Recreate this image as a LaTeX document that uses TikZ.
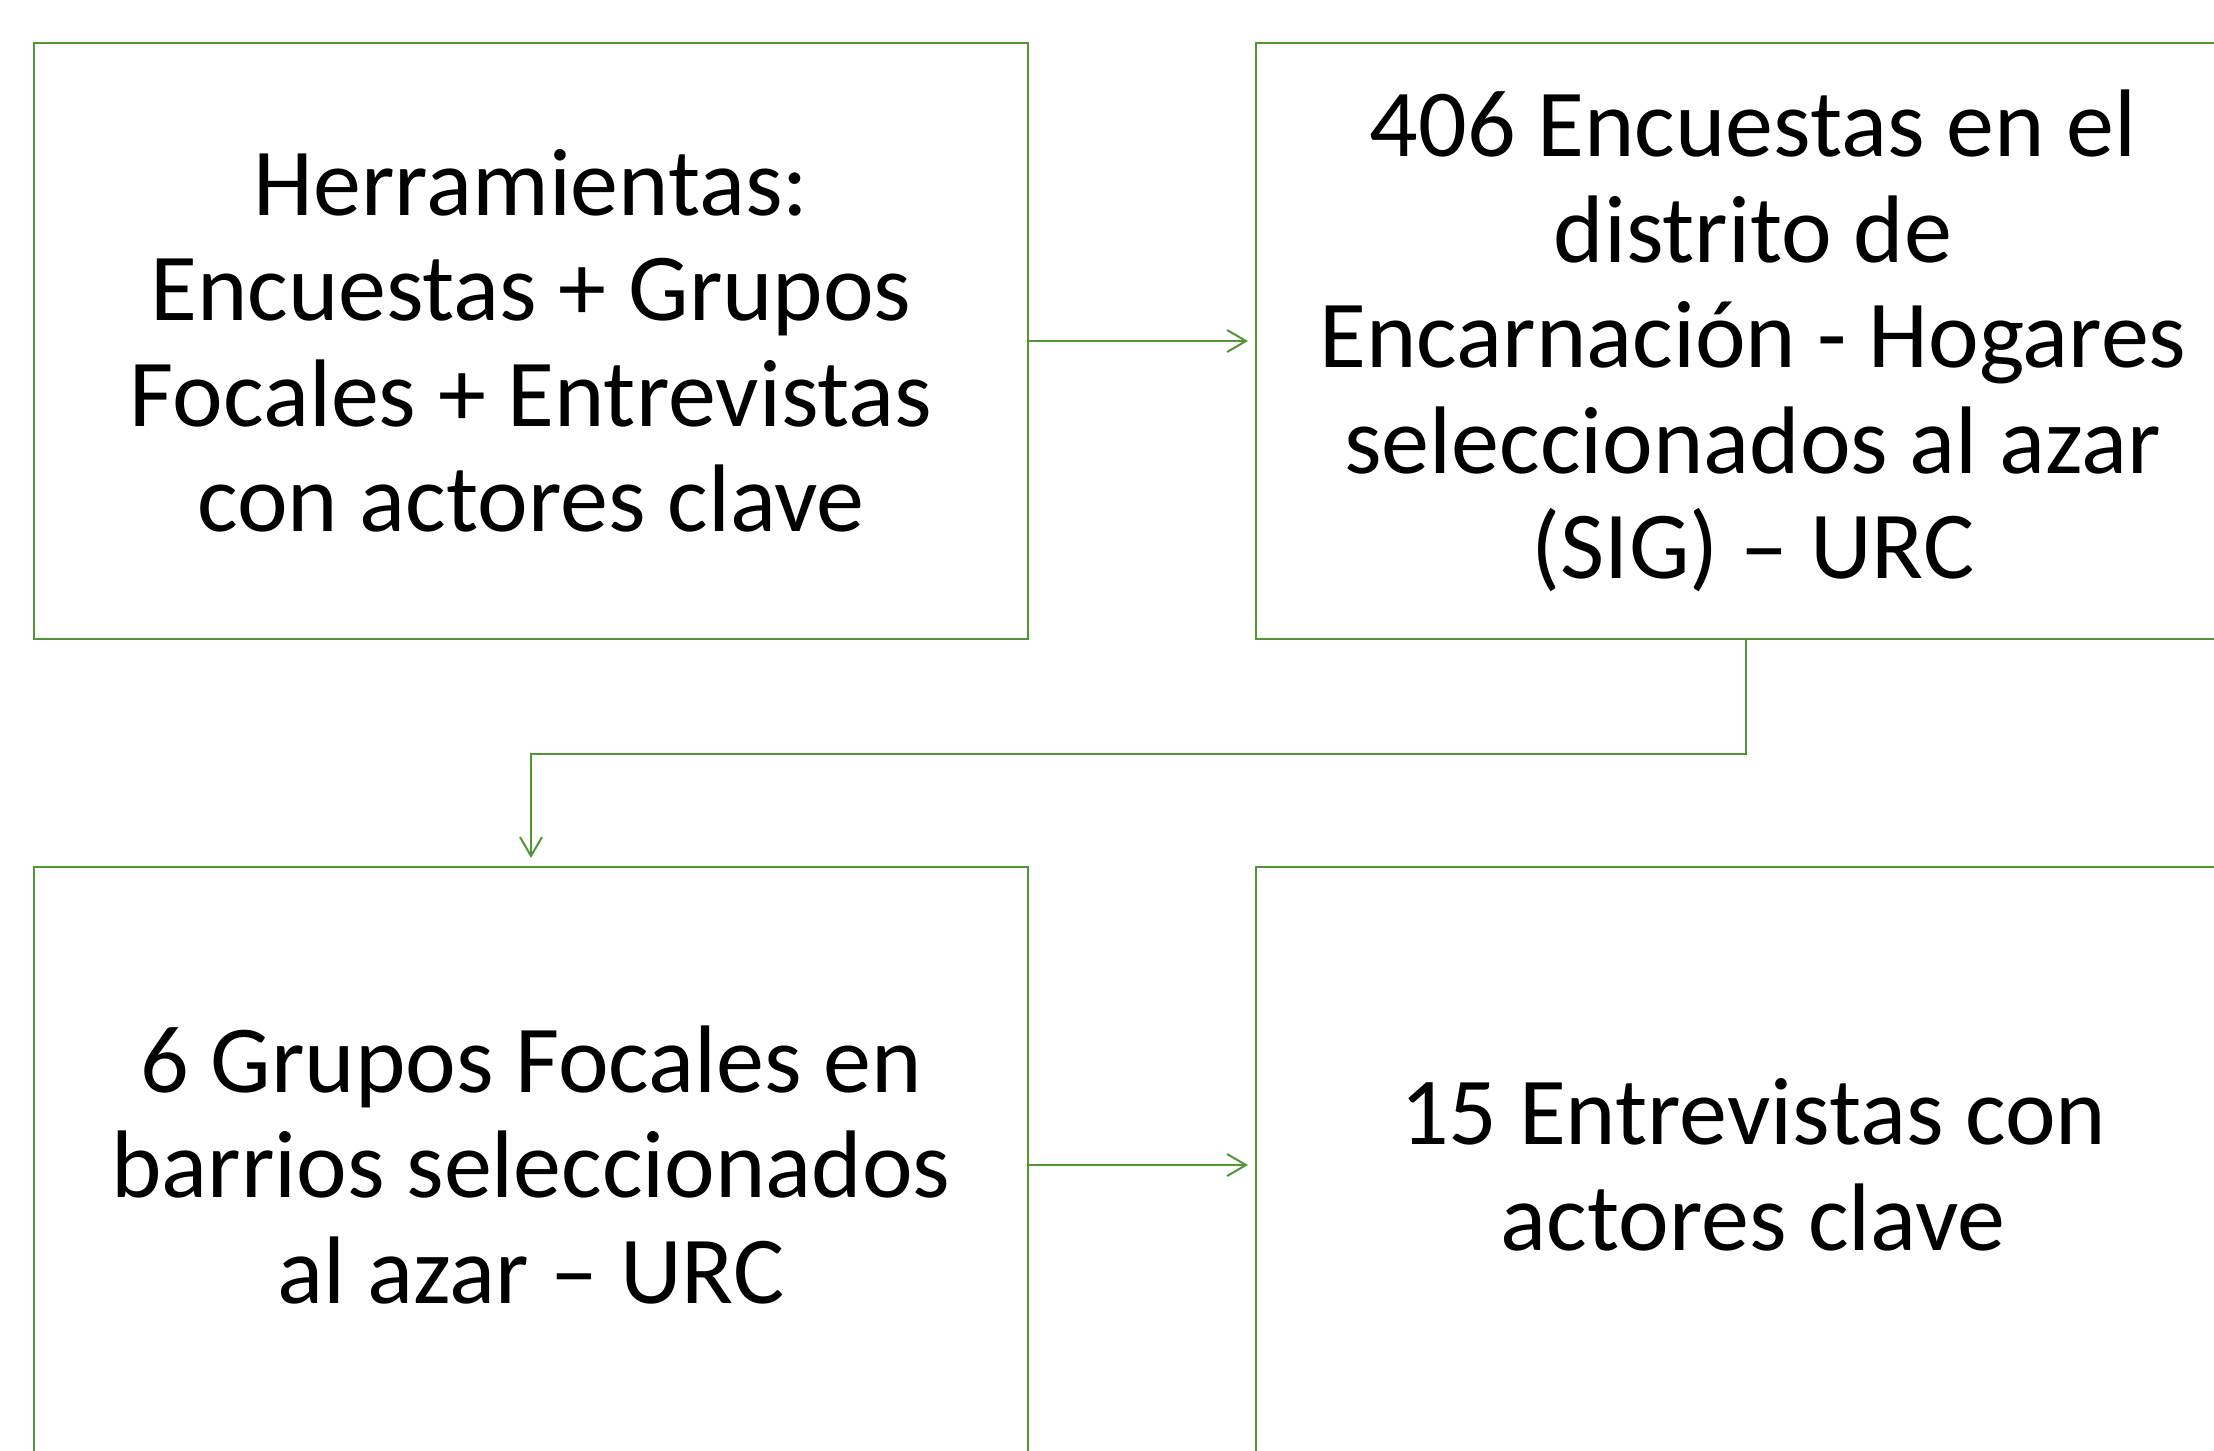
\documentclass[tikz,border=0pt]{standalone}
\usepackage{fontspec}
\setmainfont{Carlito}
\usetikzlibrary{arrows.meta}
\definecolor{boxgreen}{RGB}{80,150,55}
\begin{document}
\begin{tikzpicture}[x=1pt,y=1pt,
  box/.style={draw=boxgreen, line width=2pt, minimum width=994pt, minimum height=596pt,
    inner sep=0pt, align=center, font=\fontsize{96}{105.5}\selectfont, text=black},
  arr/.style={draw=boxgreen, line width=2pt, -{Straight Barb[length=19pt,width=22pt,line width=2pt]}, shorten >=7pt}]
\useasboundingbox (0,0) rectangle (2214,-1451);
\node[box] (b1) at (531,-341) {Herramientas:\\Encuestas + Grupos\\Focales + Entrevistas\\con actores clave};
\node[box] (b2) at (1753,-341) {406 Encuestas en el\\distrito de\\Encarnación - Hogares\\seleccionados al azar\\(SIG) – URC};
\node[box] (b3) at (531,-1165) {6 Grupos Focales en\\barrios seleccionados\\al azar – URC};
\node[box] (b4) at (1753,-1165) {15 Entrevistas con\\actores clave};
\draw[arr] (b1.east) -- (b2.west);
\draw[arr] (b3.east) -- (b4.west);
\draw[arr, shorten >=8pt] ([xshift=-7pt]b2.south) -- ++(0,-114) -| (b3.north);
\end{tikzpicture}
\end{document}
